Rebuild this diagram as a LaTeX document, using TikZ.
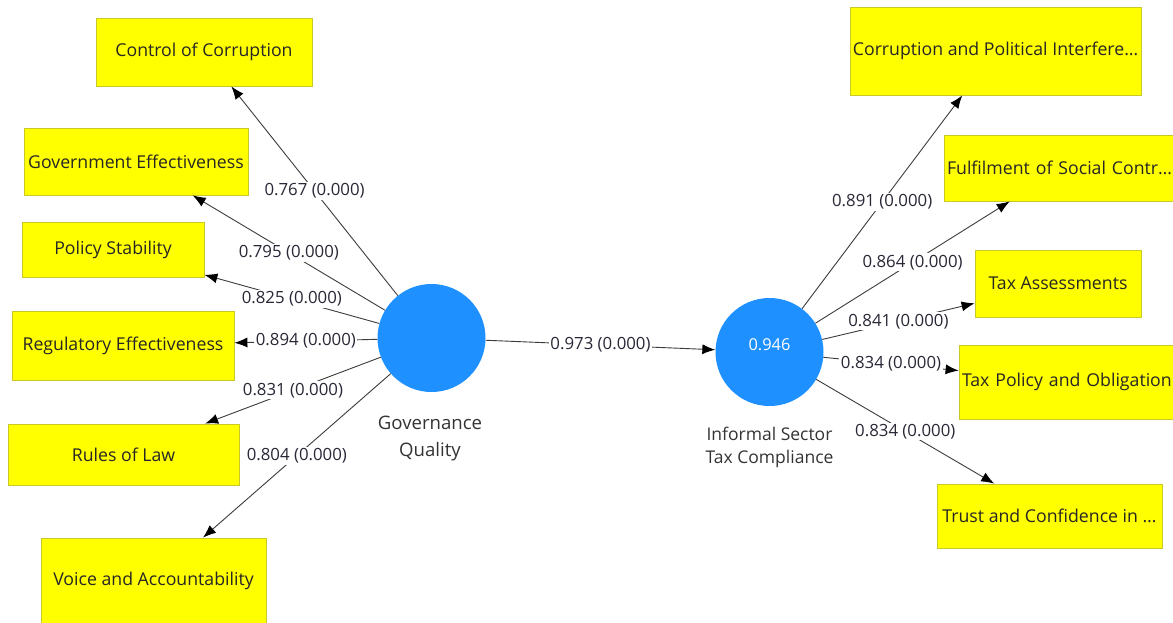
\documentclass[tikz,border=0pt]{standalone}
\usepackage{fontspec}
\setmainfont{Open Sans}
\usetikzlibrary{arrows.meta}
\definecolor{boxyellow}{RGB}{255,255,0}
\definecolor{boxedge}{RGB}{200,200,40}
\definecolor{lvblue}{RGB}{30,144,255}
\definecolor{edgegray}{RGB}{60,60,60}
\definecolor{labelgray}{RGB}{40,40,55}
\begin{document}
\begin{tikzpicture}[x=1pt,y=-1pt,
  indbox/.style={draw=boxedge, fill=boxyellow, line width=0.8pt, inner sep=0pt,
    font=\fontsize{17.7}{20}\selectfont, text=black!85},
  latent/.style={circle, fill=lvblue, minimum size=108pt, inner sep=0pt},
  load/.style={draw=edgegray, line width=0.9pt, -{Latex[length=13pt,width=10pt,color=black]}},
  wt/.style={fill=white, inner sep=1.5pt, font=\fontsize{16.8}{18}\selectfont, text=labelgray},
  lvname/.style={text=black!80, align=center}]
\useasboundingbox (0,0) rectangle (1173,622);
\fill[white] (0,0) rectangle (1173,622);

% latent variables
\node[latent] (gq) at (431.5,338) {};
\node[latent] (ist) at (769.5,352) {};
\node[text=white, font=\fontsize{16.4}{18}\selectfont] (istval) at (769.5,345) {0.946};
\node[lvname, font=\fontsize{18.6}{27}\selectfont] (gqname) at (430,438) {Governance\\Quality};
\node[lvname, font=\fontsize{17.5}{23}\selectfont] (istname) at (769.5,447) {Informal Sector\\Tax Compliance};

% left indicators
\node[indbox, minimum width=216pt, minimum height=68pt] (cc) at (204,52) {Control of Corruption};
\node[indbox, minimum width=224pt, minimum height=67pt] (ge) at (136,161.5) {Government Effectiveness};
\node[indbox, minimum width=182pt, minimum height=55pt] (ps) at (113,249.5) {Policy Stability};
\node[indbox, minimum width=222pt, minimum height=69pt] (re) at (123,345.5) {Regulatory Effectiveness};
\node[indbox, minimum width=231pt, minimum height=61pt] (rl) at (123.5,454.5) {Rules of Law};
\node[indbox, minimum width=225pt, minimum height=86pt] (va) at (153.5,581) {Voice and Accountability};

% right indicators
\node[indbox, minimum width=291pt, minimum height=88pt] (cpi) at (995.5,51) {Corruption and Political Interfere…};
\node[indbox, minimum width=238pt, minimum height=66pt, text width=232pt, align=left] (fsc) at (1063,168) {Fulfilment of Social Contr…};
\node[indbox, minimum width=166pt, minimum height=67pt] (ta) at (1058,283.5) {Tax Assessments};
\node[indbox, minimum width=232pt, minimum height=74pt, text width=226pt, align=left] (tpo) at (1075,382) {Tax Policy and Obligation};
\node[indbox, minimum width=225pt, minimum height=64pt] (tci) at (1049.5,516) {Trust and Confidence in …};

% outer loadings
\draw[load] (gq) -- node[wt]{0.767 (0.000)} (cc);
\draw[load] (gq) -- node[wt]{0.795 (0.000)} (ge);
\draw[load] (gq) -- node[wt]{0.825 (0.000)} (ps);
\draw[load] (gq) -- node[wt]{0.894 (0.000)} (re);
\draw[load] (gq) -- node[wt]{0.831 (0.000)} (rl);
\draw[load] (gq) -- node[wt]{0.804 (0.000)} (va);

\draw[load] (gq) -- node[wt]{0.973 (0.000)} (ist);

\draw[load] (ist) -- node[wt]{0.891 (0.000)} (cpi);
\draw[load] (ist) -- node[wt]{0.864 (0.000)} (fsc);
\draw[load] (ist) -- node[wt]{0.841 (0.000)} (ta);
\draw[load] (ist) -- node[wt]{0.834 (0.000)} (tpo);
\draw[load] (ist) -- node[wt]{0.834 (0.000)} (tci);
\end{tikzpicture}
\end{document}
